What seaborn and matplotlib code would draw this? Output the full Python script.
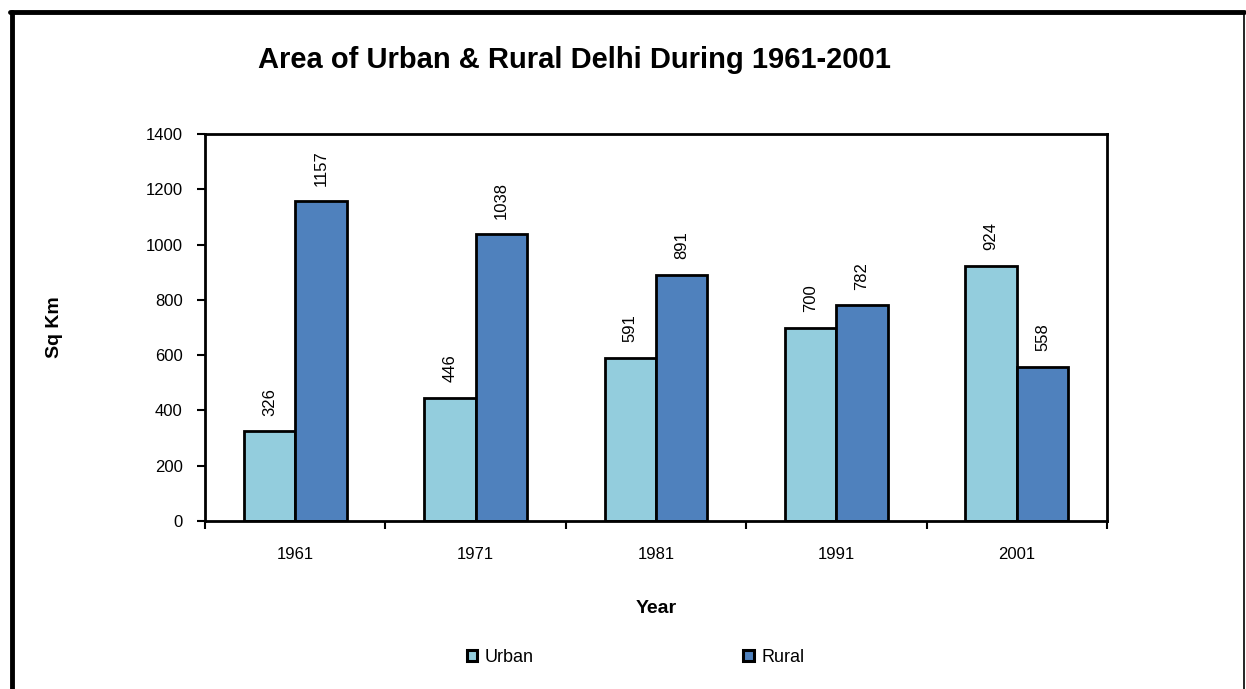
import pandas as pd
import seaborn as sns
import matplotlib.pyplot as plt
from matplotlib.lines import Line2D
from matplotlib.patches import Patch

years = ["1961", "1971", "1981", "1991", "2001"]
urban = [326, 446, 591, 700, 924]
rural = [1157, 1038, 891, 782, 558]
series = ["Urban", "Rural"]
colors = ["#93CDDD", "#4F81BD"]

df = pd.DataFrame({
    "Year": years * 2,
    "Area": urban + rural,
    "Type": ["Urban"] * len(years) + ["Rural"] * len(years),
})

sns.set_style("white")
plt.rcParams["font.family"] = ["Liberation Sans", "DejaVu Sans"]
plt.rcParams.update({"text.color": "black", "axes.labelcolor": "black",
                     "xtick.color": "black", "ytick.color": "black"})

fig = plt.figure(figsize=(12.46, 6.89), dpi=100)
ax = fig.add_axes([0.1645, 0.2438, 0.7239, 0.5617])

sns.barplot(data=df, x="Year", y="Area", hue="Type", hue_order=series,
            palette=colors, width=0.57, edgecolor="black", linewidth=2.0,
            saturation=1, legend=False, ax=ax)

for cont in ax.containers:
    ax.bar_label(cont, labels=[f"{v:.0f}" for v in cont.datavalues],
                 rotation=90, padding=11, fontsize=12)

ax.set_xlim(-0.5, len(years) - 0.5)
ax.set_ylim(0, 1400)
ax.set_yticks(range(0, 1401, 200))
ax.set_xticks([i - 0.5 for i in range(len(years) + 1)], minor=False)
ax.set_xticklabels([])
ax.set_xticks(range(len(years)), minor=True)
ax.set_xticklabels(years, minor=True)
ax.tick_params(axis="x", which="major", direction="out", length=6, width=1.5,
               bottom=True)
ax.tick_params(axis="x", which="minor", length=0, pad=19, labelsize=12)
ax.tick_params(axis="y", direction="out", length=6, width=1.5, left=True,
               labelsize=12, pad=10)
for s in ax.spines.values():
    s.set_linewidth(2)
    s.set_color("black")

ax.set_xlabel("Year", fontsize=14, fontweight="bold", va="top")
ax.xaxis.set_label_coords(0.5, -0.204)
ax.set_ylabel("Sq Km", fontsize=14, fontweight="bold")
ax.yaxis.set_label_coords(-0.157, 0.5)

fig.text(0.461, 0.913, "Area of Urban & Rural Delhi During 1961-2001",
         ha="center", va="center", fontsize=21, fontweight="bold")

handles = [Patch(facecolor=c, edgecolor="black", linewidth=2.2) for c in colors]
fig.legend(handles, series, loc="center", bbox_to_anchor=(0.51, 0.046),
           ncol=2, frameon=False, fontsize=13, handlelength=0.6,
           handleheight=0.6, handletextpad=0.4, columnspacing=11.6)

# outer chart frame
fig.add_artist(Line2D([0.008, 0.9985], [0.983, 0.983], color="black", lw=3.5))
fig.add_artist(Line2D([0.0097, 0.0097], [0.0, 0.983], color="black", lw=3.5))
fig.add_artist(Line2D([0.9985, 0.9985], [0.0, 0.983], color="black", lw=1.2))

fig.savefig("out.png", dpi=100)
